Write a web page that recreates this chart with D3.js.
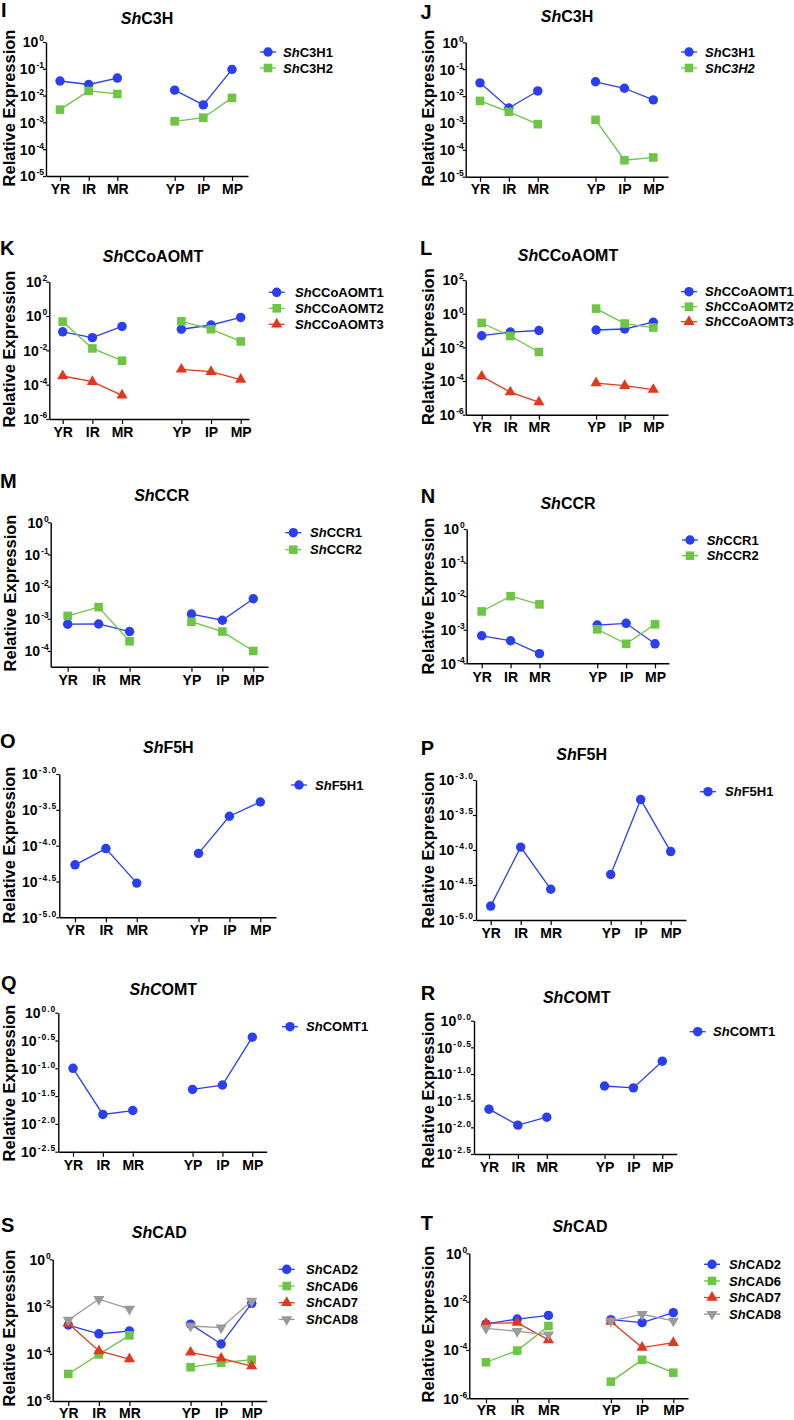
<!DOCTYPE html>
<html><head><meta charset="utf-8">
<script src="https://cdn.jsdelivr.net/npm/d3@7"></script>
<style>
body{margin:0;background:#fff;}
svg text{font-family:"Liberation Sans",Arial,Helvetica,sans-serif;font-weight:bold;fill:#000;}
</style></head><body>
<svg id="c" width="794" height="1420"></svg>
<script>
// ---------- DATA ----------
const categories = ["YR","IR","MR","YP","IP","MP"];
const categoryIndex = [0,1,2,4,5,6];

const I_ShC3H1 = [0.035,0.026,0.045,0.016,0.0045,0.095];
const I_ShC3H2 = [0.003,0.015,0.0115,0.0011,0.0015,0.0082];
const J_ShC3H1 = [0.031,0.0036,0.0155,0.034,0.0195,0.0072];
const J_ShC3H2 = [0.0066,0.0026,0.0009,0.0013,0.000041,0.000052];
const K_ShCCoAOMT1 = [0.12,0.055,0.25,0.17,0.30,0.83];
const K_ShCCoAOMT2 = [0.47,0.013,0.0025,0.49,0.17,0.033];
const K_ShCCoAOMT3 = [0.00032,0.00015,0.000024,0.00078,0.00057,0.0002];
const L_ShCCoAOMT1 = [0.049,0.081,0.10,0.107,0.123,0.31];
const L_ShCCoAOMT2 = [0.28,0.047,0.0053,2.0,0.26,0.15];
const L_ShCCoAOMT3 = [0.00019,0.000022,0.0000056,0.000076,0.000053,0.000031];
const M_ShCCR1 = [0.00068,0.00069,0.0004,0.0014,0.0009,0.0042];
const M_ShCCR2 = [0.00123,0.0023,0.0002,0.00081,0.0004,0.0001];
const N_ShCCR1 = [0.00066,0.00047,0.000194,0.00138,0.00155,0.00038];
const N_ShCCR2 = [0.0035,0.010,0.0057,0.00103,0.00038,0.00145];
const O_ShF5H1 = [5.4e-5,9.1e-5,3.0e-5,7.8e-5,2.57e-4,4.07e-4];
const P_ShF5H1 = [1.58e-5,1.10e-4,2.75e-5,4.47e-5,5.25e-4,9.5e-5];
const Q_ShCOMT1 = [0.100,0.0148,0.0174,0.0417,0.050,0.363];
const R_ShCOMT1 = [0.0219,0.011,0.0155,0.0596,0.055,0.174];
const S_ShCAD2 = [0.00165,0.0007,0.00092,0.0018,0.00026,0.0137];
const S_ShCAD6 = [1.4e-5,9.4e-5,0.0006,2.7e-5,4.2e-5,5.6e-5];
const S_ShCAD7 = [0.0019,0.000131,6.0e-5,0.000115,6.4e-5,3.0e-5];
const S_ShCAD8 = [0.0027,0.0204,0.0079,0.0015,0.00127,0.017];
const T_ShCAD2 = [0.0012,0.0019,0.0027,0.0018,0.00135,0.0035];
const T_ShCAD6 = [3.1e-5,9.4e-5,0.00098,4.9e-6,3.9e-5,1.15e-5];
const T_ShCAD7 = [0.00126,0.00135,0.00026,0.00149,0.000126,0.0002];
const T_ShCAD8 = [0.00079,0.00059,0.00043,0.0016,0.003,0.0016];

// tick exponents (labels are 10^e)
const ticks_C3H = [0,-1,-2,-3,-4,-5];
const ticks_CCoAOMT = [2,0,-2,-4,-6];
const ticks_CCR = [0,-1,-2,-3,-4];
const ticks_F5H = [-3.0,-3.5,-4.0,-4.5,-5.0];
const ticks_COMT = [0.0,-0.5,-1.0,-1.5,-2.0,-2.5];
const ticks_CAD = [0,-2,-4,-6];

// ---------- STYLE ----------
const styles = [
  {color:"#2a3ff2", sym:"circle"},
  {color:"#6cc644", sym:"square"},
  {color:"#e2391e", sym:"triUp"},
  {color:"#9a9a9a", sym:"triDown"}
];

// ---------- PANELS (layout) ----------
const panels = [
 {letter:"I", title:["Sh","C3H"], series:[["ShC3H1",I_ShC3H1],["ShC3H2",I_ShC3H2]], ticks:ticks_C3H, dec:0, domain:[-5,0],
  g:{ax:46,x0:60,x6:232,axEnd:248,yTop:42,yBot:176,titleX:147,titleY:23.5,letterX:1,letterY:17,legX:268,legY:52,legDy:16,legTX:283,xLabY:193.5,ylabX:14.5,ylabY:108}},
 {letter:"J", title:["Sh","C3H"], series:[["ShC3H1",J_ShC3H1],["ShC3H2",J_ShC3H2,true]], ticks:ticks_C3H, dec:0, domain:[-5,0],
  g:{ax:465.7,x0:480,x6:653.3,axEnd:668,yTop:42.3,yBot:176.7,titleX:567,titleY:21.7,letterX:420.5,letterY:19.3,legX:689,legY:52,legDy:16,legTX:705,xLabY:194,ylabX:433.5,ylabY:108}},
 {letter:"K", title:["Sh","CCoAOMT"], series:[["ShCCoAOMT1",K_ShCCoAOMT1],["ShCCoAOMT2",K_ShCCoAOMT2],["ShCCoAOMT3",K_ShCCoAOMT3]], ticks:ticks_CCoAOMT, dec:0, domain:[-6,2],
  g:{ax:49.3,x0:62.7,x6:240.7,axEnd:249,yTop:281.7,yBot:419,titleX:153,titleY:261.7,letterX:0,letterY:255,legX:276.7,legY:292.3,legDy:16,legTX:295,xLabY:436.7,ylabX:15,ylabY:349}},
 {letter:"L", title:["Sh","CCoAOMT"], series:[["ShCCoAOMT1",L_ShCCoAOMT1],["ShCCoAOMT2",L_ShCCoAOMT2],["ShCCoAOMT3",L_ShCCoAOMT3]], ticks:ticks_CCoAOMT, dec:0, domain:[-6,2],
  g:{ax:465.7,x0:481.7,x6:653.3,axEnd:668,yTop:280,yBot:414.7,titleX:568,titleY:260.7,letterX:420,letterY:255,legX:689,legY:291.7,legDy:15,legTX:705,xLabY:431.7,ylabX:433.5,ylabY:346.7}},
 {letter:"M", title:["Sh","CCR"], series:[["ShCCR1",M_ShCCR1],["ShCCR2",M_ShCCR2]], ticks:ticks_CCR, dec:0, domain:[-4.49,0],
  g:{ax:50.7,x0:67.7,x6:253.3,axEnd:268,yTop:522.3,yBot:666.7,titleX:161.7,titleY:500.7,letterX:0,letterY:488.3,legX:293.3,legY:532.7,legDy:17,legTX:310,xLabY:685,ylabX:15.7,ylabY:593}},
 {letter:"N", title:["Sh","CCR"], series:[["ShCCR1",N_ShCCR1],["ShCCR2",N_ShCCR2]], ticks:ticks_CCR, dec:0, domain:[-4,0],
  g:{ax:466.7,x0:481.7,x6:655,axEnd:669,yTop:529,yBot:663.3,titleX:568,titleY:509,letterX:420.7,letterY:503,legX:690,legY:540,legDy:15.7,legTX:706.7,xLabY:681.7,ylabX:433.5,ylabY:596}},
 {letter:"O", title:["Sh","F5H"], series:[["ShF5H1",O_ShF5H1]], ticks:ticks_F5H, dec:1, domain:[-5,-3],
  g:{ax:59.3,x0:75,x6:260.3,axEnd:276,yTop:774,yBot:917.3,titleX:168.3,titleY:753.3,letterX:0,letterY:748.3,legX:299,legY:785,legDy:16,legTX:315,xLabY:935,ylabX:15,ylabY:845}},
 {letter:"P", title:["Sh","F5H"], series:[["ShF5H1",P_ShF5H1]], ticks:ticks_F5H, dec:1, domain:[-5,-3],
  g:{ax:476,x0:490.7,x6:670.7,axEnd:686,yTop:780,yBot:920,titleX:581.7,titleY:760,letterX:420.7,letterY:755,legX:708,legY:791.7,legDy:16,legTX:725,xLabY:938,ylabX:433.5,ylabY:850}},
 {letter:"Q", title:["ShC","OMT"], series:[["ShCOMT1",Q_ShCOMT1]], ticks:ticks_COMT, dec:1, domain:[-2.5,0],
  g:{ax:58.3,x0:73,x6:252.3,axEnd:266.7,yTop:1012.7,yBot:1151.7,titleX:163.3,titleY:995,letterX:1,letterY:990,legX:290,legY:1026.7,legDy:16,legTX:306,xLabY:1170,ylabX:15,ylabY:1083}},
 {letter:"R", title:["ShC","OMT"], series:[["ShCOMT1",R_ShCOMT1]], ticks:ticks_COMT, dec:1, domain:[-2.5,0],
  g:{ax:474,x0:489,x6:662.3,axEnd:676.7,yTop:1020.7,yBot:1154,titleX:576.7,titleY:1002.7,letterX:420.7,letterY:1000,legX:697.7,legY:1031.7,legDy:16,legTX:713,xLabY:1172,ylabX:433.5,ylabY:1090}},
 {letter:"S", title:["Sh","CAD"], series:[["ShCAD2",S_ShCAD2],["ShCAD6",S_ShCAD6],["ShCAD7",S_ShCAD7],["ShCAD8",S_ShCAD8]], ticks:ticks_CAD, dec:0, domain:[-6,0],
  g:{ax:52.7,x0:68.3,x6:251.7,axEnd:266.7,yTop:1259.3,yBot:1401,titleX:159.3,titleY:1238.3,letterX:1,letterY:1231.7,legX:286.7,legY:1269.3,legDy:16.7,legTX:306,xLabY:1418,ylabX:15,ylabY:1328}},
 {letter:"T", title:["Sh","CAD"], series:[["ShCAD2",T_ShCAD2],["ShCAD6",T_ShCAD6],["ShCAD7",T_ShCAD7],["ShCAD8",T_ShCAD8]], ticks:ticks_CAD, dec:0, domain:[-6,0],
  g:{ax:469.3,x0:486,x6:673.3,axEnd:688,yTop:1253.3,yBot:1398.3,titleX:580,titleY:1231.7,letterX:420.7,letterY:1230,legX:712,legY:1264.3,legDy:16.6,legTX:729,xLabY:1415,ylabX:433.5,ylabY:1324}}
];

// ---------- DRAW ----------
const svg = d3.select("#c");
const symGen = {
  circle: d3.symbol().type(d3.symbolCircle).size(70),
  square: d3.symbol().type(d3.symbolSquare).size(74),
  triUp: d3.symbol().type(d3.symbolTriangle).size(54),
  triDown: d3.symbol().type(d3.symbolTriangle).size(54)
};
function marker(sel, st, cx, cy){
  sel.append("path").attr("d", symGen[st.sym]())
    .attr("transform", `translate(${cx},${cy})` + (st.sym==="triDown" ? " rotate(180)" : ""))
    .attr("fill", st.color);
}

function drawPanel(p){
  const g = p.g;
  const root = svg.append("g");
  const y = d3.scaleLog().domain([10**p.domain[0], 10**p.domain[1]]).range([g.yBot, g.yTop]);
  const step = (g.x6 - g.x0)/6;
  const x = d3.scaleLinear().domain([(g.ax-g.x0)/step, (g.axEnd-g.x0)/step]).range([g.ax, g.axEnd]);

  // y axis
  const yAxis = d3.axisLeft(y).tickValues(p.ticks.map(e=>10**e)).tickSize(3).tickSizeOuter(0).tickPadding(-1).tickFormat("");
  const ga = root.append("g").attr("transform",`translate(${g.ax},0)`).call(yAxis);
  ga.attr("font-family",null).attr("font-size",null);
  ga.select(".domain").attr("stroke","#000").attr("stroke-width",1.4);
  ga.selectAll(".tick line").attr("stroke","#000").attr("stroke-width",1.2);
  ga.selectAll(".tick text").each(function(d,i){
    const t = d3.select(this).attr("font-size",14).attr("dy","0.35em").attr("fill","#000");
    t.text(null);
    t.append("tspan").text("10");
    const e = p.ticks[i];
    const s = p.dec ? e.toFixed(p.dec) : String(e);
    t.append("tspan").attr("font-size",8.5).attr("dx",1).attr("dy",-6).attr("letter-spacing", p.dec?1:0).text(s);
  });

  // x axis
  const xAxis = d3.axisBottom(x).tickValues(categoryIndex).tickFormat((d,i)=>categories[i]).tickSize(5).tickSizeOuter(0);
  const gx = root.append("g").attr("transform",`translate(0,${g.yBot})`).call(xAxis);
  gx.attr("font-family",null).attr("font-size",null);
  gx.select(".domain").attr("stroke","#000").attr("stroke-width",1.4);
  gx.selectAll(".tick line").attr("stroke","#000").attr("stroke-width",1.2);
  gx.selectAll(".tick text").attr("font-size",14).attr("y", g.xLabY - g.yBot).attr("dy",0).attr("fill","#000");

  // series
  const groups = [[0,1,2],[3,4,5]];
  p.series.forEach((s,k)=>{
    const st = styles[k];
    const data = s[1];
    const line = d3.line().x(i=>x(categoryIndex[i])).y(i=>y(data[i]));
    groups.forEach(gr=>{
      root.append("path").attr("d", line(gr)).attr("fill","none").attr("stroke", st.color).attr("stroke-width",1.3);
    });
    data.forEach((v,i)=> marker(root, st, x(categoryIndex[i]), y(v)));
  });

  // legend
  p.series.forEach((s,k)=>{
    const st = styles[k];
    const yy = g.legY + k*g.legDy;
    root.append("line").attr("x1", g.legX-8).attr("x2", g.legX+8).attr("y1", yy).attr("y2", yy)
      .attr("stroke", st.color).attr("stroke-width",1.3);
    marker(root, st, g.legX, yy);
    const t = root.append("text").attr("x", g.legTX).attr("y", yy+4.7).attr("font-size",13);
    if (s[2]) { t.append("tspan").attr("font-style","italic").text(s[0]); }
    else {
      t.append("tspan").attr("font-style","italic").text(s[0].slice(0,2));
      t.append("tspan").text(s[0].slice(2));
    }
  });

  // title
  const tt = root.append("text").attr("x", g.titleX).attr("y", g.titleY).attr("text-anchor","middle").attr("font-size",16);
  tt.append("tspan").attr("font-style","italic").text(p.title[0]);
  tt.append("tspan").text(p.title[1]);

  // panel letter
  root.append("text").attr("x", g.letterX).attr("y", g.letterY).attr("font-size",20).text(p.letter);

  // y label
  root.append("text").attr("transform", `translate(${g.ylabX},${g.ylabY}) rotate(-90)`)
    .attr("text-anchor","middle").attr("font-size",16.5).text("Relative Expression");
}

panels.forEach(drawPanel);
</script>
</body></html>
